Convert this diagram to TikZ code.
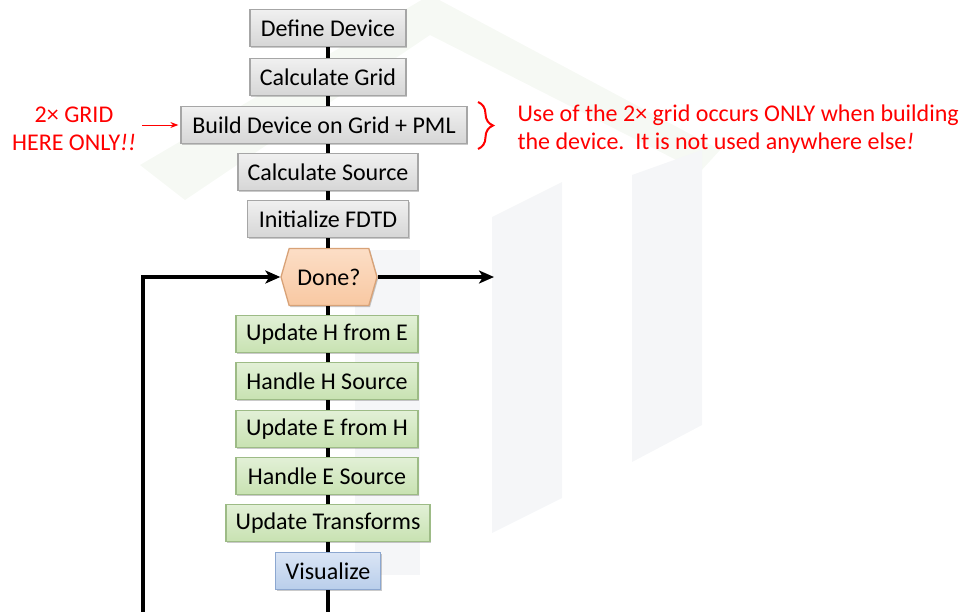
\documentclass[tikz,border=0pt]{standalone}
\usepackage{fontspec}
\setmainfont{Carlito}
\usetikzlibrary{shapes.symbols,shadows,arrows.meta,decorations.pathreplacing}

\definecolor{wmark}{HTML}{F5F6F8}
\definecolor{wmarkg}{HTML}{F6F9F4}
\definecolor{gtop}{HTML}{F0F0F0}
\definecolor{gbot}{HTML}{D6D6D6}
\definecolor{gline}{HTML}{A6A6A6}
\definecolor{ntop}{HTML}{E2F0D6}
\definecolor{nbot}{HTML}{C8E2B2}
\definecolor{nline}{HTML}{9DBB86}
\definecolor{btop}{HTML}{DAE5F5}
\definecolor{bbot}{HTML}{B9CEEB}
\definecolor{bline}{HTML}{8CA7D0}
\definecolor{otop}{HTML}{FCDEC6}
\definecolor{obot}{HTML}{F8C8A2}
\definecolor{oline}{HTML}{D8A277}
\definecolor{note}{HTML}{FF0000}

\tikzset{
  stepbox/.style={rectangle, minimum height=37pt, inner xsep=8pt, inner ysep=0pt,
    font=\fontsize{24}{27}\selectfont, line width=1.3pt,
    drop shadow={opacity=0.35, shadow xshift=1.2pt, shadow yshift=-1.6pt, fill=black!60}},
  graybox/.style={stepbox, draw=gline, top color=gtop, bottom color=gbot},
  greenbox/.style={stepbox, draw=nline, top color=ntop, bottom color=nbot},
  bluebox/.style={stepbox, draw=bline, top color=btop, bottom color=bbot},
  decide/.style={shape=signal, signal to=west and east, signal pointer angle=148,
    minimum width=96pt, minimum height=57pt, inner xsep=2pt, inner ysep=0pt,
    font=\fontsize{24}{27}\selectfont, line width=1.3pt,
    draw=oline, top color=otop, bottom color=obot,
    drop shadow={opacity=0.35, shadow xshift=1.2pt, shadow yshift=-1.6pt, fill=black!60}},
  flowline/.style={line width=4.5pt, draw=black},
  flowarrow/.style={flowline, -{Stealth[length=15pt, width=13pt, inset=4pt]}},
  notetext/.style={text=note, font=\fontsize{24}{28}\selectfont},
  notearrow/.style={draw=note, line width=1pt, -{Stealth[length=8pt, width=6pt]}},
  notebrace/.style={draw=note, line width=2pt, decorate,
    decoration={brace, amplitude=15pt}},
}

\begin{document}
\begin{tikzpicture}[x=1pt, y=-1pt]
\useasboundingbox (0,0) rectangle (964,611);

% faint logo in the background: roof and three columns
\fill[wmarkg] (140,165) -- (430,-5) -- (720,150) -- (700,172) -- (430,35) -- (185,200) -- cycle;
\fill[wmark] (355,250) -- (420,250) -- (420,575) -- (355,575) -- cycle;
\fill[wmark] (492,217) -- (562,182) -- (562,498) -- (492,533) -- cycle;
\fill[wmark] (632,175) -- (702,150) -- (702,425) -- (632,462) -- cycle;

% process chain
\node[graybox, minimum width=156pt] (define) at (328,28) {Define Device};
\node[graybox, minimum width=156pt] (grid)   at (328,77) {Calculate Grid};
\node[graybox, minimum width=286pt] (build)  at (324,125) {Build Device on Grid + PML};
\node[graybox, minimum width=180pt] (source) at (328,172) {Calculate Source};
\node[graybox, minimum width=161pt] (init)   at (328,219) {Initialize FDTD};
\node[decide] (done) at (329,277) {Done?};
\node[greenbox, minimum width=182pt] (updH)  at (327,334) {Update H from E};
\node[greenbox, minimum width=182pt] (srcH)  at (327,381) {Handle H Source};
\node[greenbox, minimum width=182pt] (updE)  at (327,429) {Update E from H};
\node[greenbox, minimum width=182pt] (srcE)  at (327,476) {Handle E Source};
\node[greenbox, minimum width=204pt] (trans) at (328,523) {Update Transforms};
\node[bluebox,  minimum width=105pt] (vis)   at (328,571) {Visualize};

% links between consecutive steps, kept vertical
\foreach \a/\b in {define/grid, grid/build, build/source, source/init, init/done,
                   done/updH, updH/srcH, srcH/updE, updE/srcE, srcE/trans, trans/vis}
  \draw[flowline] (\a.south -| define.south) -- (\b.north -| define.south);

% time loop
\coordinate (visbot) at (328,612);
\coordinate (loopbot) at (143,612);
\coordinate (exit) at (494,277);
\draw[flowline] (vis.south) -- (visbot);
\draw[flowarrow] (loopbot) |- (done.west);
\draw[flowarrow] (done.east) -- (exit);

% annotations
\node[notetext, align=center] (gridnote) at (74,129) {2\texttimes{} GRID\\HERE ONLY\textit{!!}};
\draw[notearrow] ([xshift=3pt]gridnote.east |- build.west) -- ([xshift=-2pt]build.west);
\coordinate (bracetop) at (478,102);
\coordinate (bracebot) at (478,149);
\draw[notebrace] (bracetop) -- (bracebot);
\node[notetext, align=left, anchor=west] (usenote) at (514,129)
  {Use of the 2\texttimes{} grid occurs ONLY when building\\the device.\ \ It is not used anywhere else\textit{!}};
\end{tikzpicture}
\end{document}
